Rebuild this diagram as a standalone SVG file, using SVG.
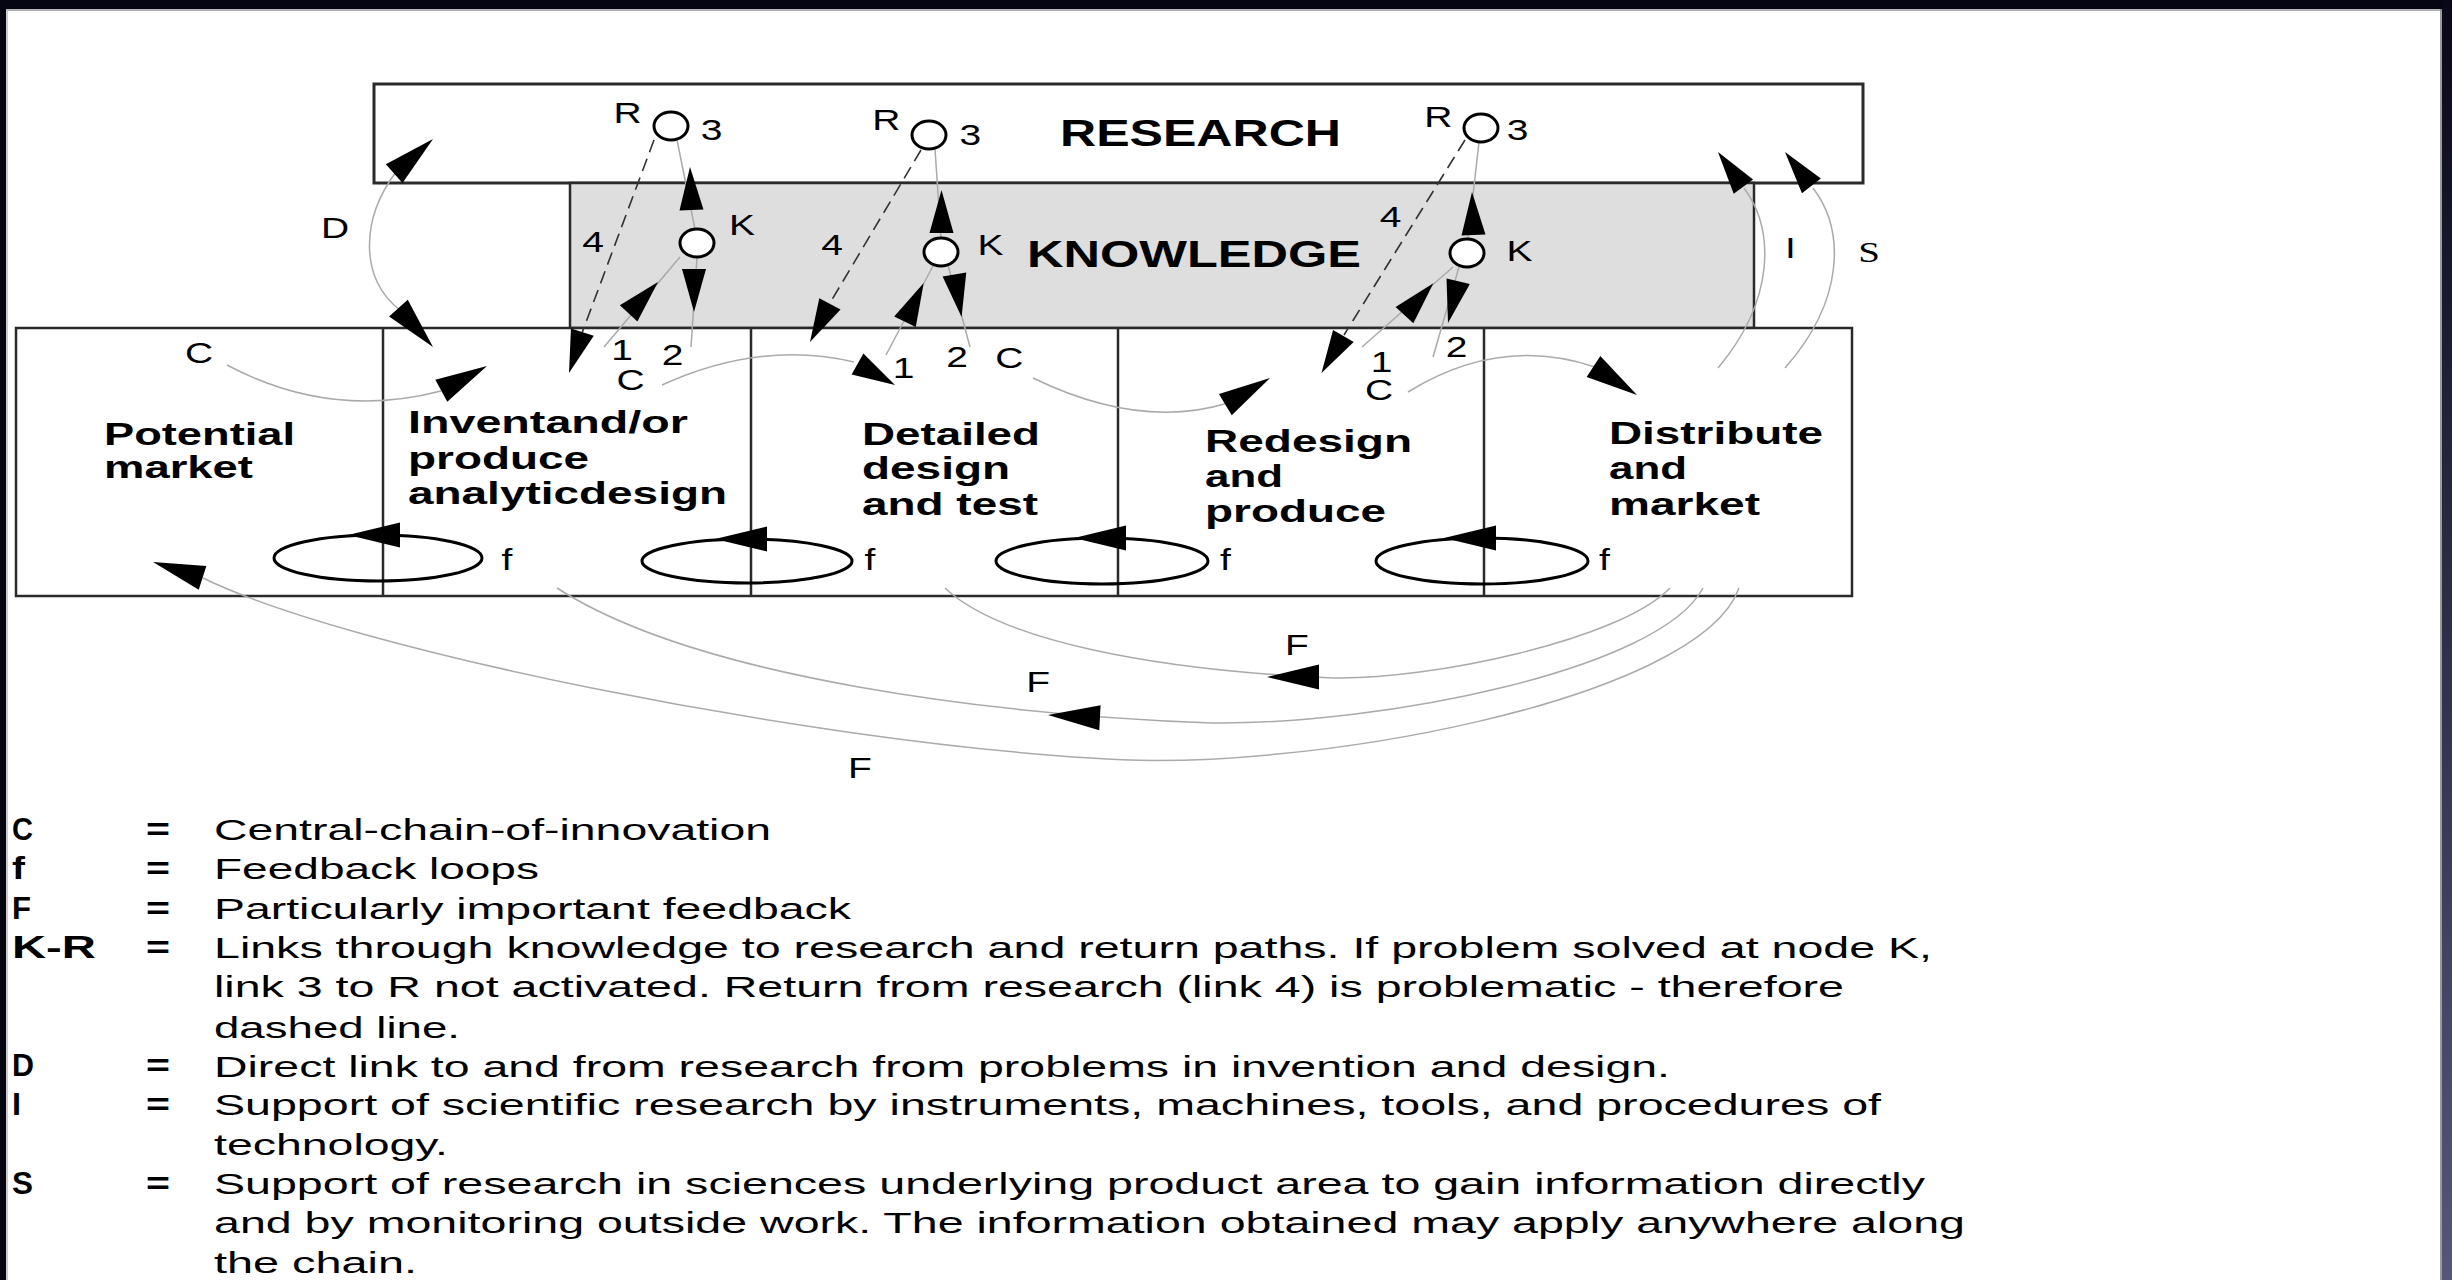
<svg xmlns="http://www.w3.org/2000/svg" width="2452" height="1280" viewBox="0 0 2452 1280">
<defs>
  <linearGradient id="edgeR" x1="0" y1="0" x2="0" y2="1">
    <stop offset="0" stop-color="#080818"/>
    <stop offset="1" stop-color="#56567a"/>
  </linearGradient>
  <!-- arrowheads point along +x, tip at the origin -->
  <path id="ahL" d="M0,0 L-52,-12.5 L-52,12.5 Z"/>
  <path id="ahM" d="M0,0 L-43,-12 L-43,12 Z"/>
</defs>
<style>
  .box{fill:#fff;stroke:#2a2a2a;stroke-width:2.5}
  .know{fill:#dedede;stroke:#2a2a2a;stroke-width:2.5}
  .div{stroke:#2a2a2a;stroke-width:2.5}
  .node{fill:#fff;stroke:#000;stroke-width:3}
  .loop{fill:none;stroke:#000;stroke-width:3}
  .thin{fill:none;stroke:#aaa;stroke-width:1.5}
  .dash{fill:none;stroke:#333;stroke-width:1.6;stroke-dasharray:13 7}
  .head{fill:#000}
  .title{font-family:"Liberation Sans",Arial,sans-serif;font-weight:bold;font-size:36px;fill:#000}
  .step{font-family:"Liberation Sans",Arial,sans-serif;font-weight:bold;font-size:31px;fill:#000}
  .lbl{font-family:"Liberation Sans",Arial,sans-serif;font-size:30px;fill:#000;text-anchor:middle}
  .serif{font-family:"Liberation Serif","Times New Roman",serif}
  .key{font-family:"Liberation Sans",Arial,sans-serif;font-weight:bold;font-size:31px;fill:#000}
  .txt{font-family:"Liberation Sans",Arial,sans-serif;font-size:30px;fill:#000}
</style>

<!-- page and frame -->
<rect x="0" y="0" width="2452" height="1280" fill="#fff"/>
<rect x="0" y="0" width="2452" height="9" fill="#060612"/>
<rect x="0" y="0" width="6" height="1280" fill="#060612"/>
<rect x="2442" y="0" width="10" height="1280" fill="url(#edgeR)"/>
<line x1="6" y1="10" x2="2442" y2="10" stroke="#9a9a9a" stroke-width="1.5"/>
<line x1="7" y1="9" x2="7" y2="1280" stroke="#bbb" stroke-width="1.5"/>
<line x1="2441" y1="9" x2="2441" y2="1280" stroke="#777" stroke-width="1.5"/>

<!-- research and knowledge bands -->
<g id="research">
  <rect class="box" x="374" y="84" width="1489" height="99" style="stroke-width:3"/>
  <text class="title" x="1060" y="146" textLength="281" lengthAdjust="spacingAndGlyphs">RESEARCH</text>
</g>
<g id="knowledge">
  <rect class="know" x="570" y="183" width="1184" height="145"/>
  <text class="title" x="1027" y="267" textLength="334" lengthAdjust="spacingAndGlyphs">KNOWLEDGE</text>
</g>

<!-- chain of innovation steps -->
<g id="chain">
  <rect class="box" x="16" y="328" width="1836" height="268"/>
  <line class="div" x1="383" y1="328" x2="383" y2="596"/>
  <line class="div" x1="751" y1="328" x2="751" y2="596"/>
  <line class="div" x1="1118" y1="328" x2="1118" y2="596"/>
  <line class="div" x1="1484" y1="328" x2="1484" y2="596"/>
</g>
<g id="step-market">
  <text class="step" x="104" y="445" textLength="191" lengthAdjust="spacingAndGlyphs">Potential</text>
  <text class="step" x="104" y="478" textLength="149" lengthAdjust="spacingAndGlyphs">market</text>
</g>
<g id="step-invent">
  <text class="step" x="408" y="433" textLength="280" lengthAdjust="spacingAndGlyphs">Inventand/or</text>
  <text class="step" x="408" y="469" textLength="181" lengthAdjust="spacingAndGlyphs">produce</text>
  <text class="step" x="408" y="504" textLength="319" lengthAdjust="spacingAndGlyphs">analyticdesign</text>
</g>
<g id="step-detail">
  <text class="step" x="862" y="445" textLength="178" lengthAdjust="spacingAndGlyphs">Detailed</text>
  <text class="step" x="862" y="479" textLength="148" lengthAdjust="spacingAndGlyphs">design</text>
  <text class="step" x="862" y="515" textLength="176" lengthAdjust="spacingAndGlyphs">and test</text>
</g>
<g id="step-redesign">
  <text class="step" x="1205" y="452" textLength="207" lengthAdjust="spacingAndGlyphs">Redesign</text>
  <text class="step" x="1205" y="487" textLength="78" lengthAdjust="spacingAndGlyphs">and</text>
  <text class="step" x="1205" y="522" textLength="181" lengthAdjust="spacingAndGlyphs">produce</text>
</g>
<g id="step-distribute">
  <text class="step" x="1609" y="444" textLength="214" lengthAdjust="spacingAndGlyphs">Distribute</text>
  <text class="step" x="1609" y="479" textLength="78" lengthAdjust="spacingAndGlyphs">and</text>
  <text class="step" x="1609" y="515" textLength="151" lengthAdjust="spacingAndGlyphs">market</text>
</g>

<!-- connectors -->
<g id="connectors">
  <!-- central chain C -->
  <path class="thin" d="M227,365 Q330,420 441,391"/>
  <path class="thin" d="M662,385 Q760,340 854,362"/>
  <path class="thin" d="M1033,378 Q1140,430 1228,403"/>
  <path class="thin" d="M1408,392 Q1500,335 1595,367"/>
  <use href="#ahL" class="head" transform="translate(487 366) rotate(-28.5)"/>
  <use href="#ahM" class="head" transform="translate(895 385) rotate(29.3)"/>
  <use href="#ahL" class="head" transform="translate(1270 378) rotate(-30.8)"/>
  <use href="#ahL" class="head" transform="translate(1637 395) rotate(33.2)"/>

  <!-- D: invention to research and back -->
  <path class="thin" d="M396,172 C360,220 360,280 400,310"/>
  <use href="#ahL" class="head" transform="translate(433 139) rotate(-41.7)"/>
  <use href="#ahL" class="head" transform="translate(433 347) rotate(48.3)"/>

  <!-- I and S: support of research -->
  <path class="thin" d="M1718,368 C1775,300 1775,230 1744,188"/>
  <path class="thin" d="M1785,368 C1845,300 1845,230 1813,188"/>
  <use href="#ahM" class="head" transform="translate(1718 152) rotate(-126.2)"/>
  <use href="#ahM" class="head" transform="translate(1785 152) rotate(-127.9)"/>

  <!-- K-R links, node 1 -->
  <line class="thin" x1="677" y1="140" x2="695" y2="229"/>
  <line class="thin" x1="697" y1="257" x2="691" y2="347"/>
  <line class="thin" x1="604" y1="347" x2="680" y2="257"/>
  <line class="dash" x1="654" y1="140" x2="582" y2="333"/>
  <use href="#ahM" class="head" transform="translate(690 167) rotate(-92)"/>
  <use href="#ahM" class="head" transform="translate(694 312) rotate(90)"/>
  <use href="#ahM" class="head" transform="translate(658 282) rotate(-46.9)"/>
  <use href="#ahM" class="head" transform="translate(569 373) rotate(108.1)"/>

  <!-- K-R links, node 2 -->
  <line class="thin" x1="935" y1="149" x2="941" y2="238"/>
  <line class="thin" x1="948" y1="265" x2="970" y2="347"/>
  <line class="thin" x1="886" y1="355" x2="933" y2="266"/>
  <line class="dash" x1="921" y1="150" x2="830" y2="303"/>
  <use href="#ahM" class="head" transform="translate(941.5 190) rotate(-90)"/>
  <use href="#ahM" class="head" transform="translate(961.6 317) rotate(80.4)"/>
  <use href="#ahM" class="head" transform="translate(923.7 283) rotate(-64.2)"/>
  <use href="#ahM" class="head" transform="translate(810 342) rotate(117.6)"/>

  <!-- K-R links, node 3 -->
  <line class="thin" x1="1479" y1="142" x2="1468" y2="239"/>
  <line class="thin" x1="1459" y1="267" x2="1433" y2="357"/>
  <line class="thin" x1="1362" y1="347" x2="1453" y2="267"/>
  <line class="dash" x1="1465" y1="140" x2="1344" y2="335"/>
  <use href="#ahM" class="head" transform="translate(1472 192) rotate(-92)"/>
  <use href="#ahM" class="head" transform="translate(1448 323) rotate(103.7)"/>
  <use href="#ahM" class="head" transform="translate(1433.4 283.3) rotate(-47.7)"/>
  <use href="#ahM" class="head" transform="translate(1321.5 373) rotate(120.6)"/>

  <!-- f: feedback loops -->
  <ellipse class="loop" cx="378" cy="558" rx="104" ry="23"/>
  <ellipse class="loop" cx="747" cy="561" rx="105" ry="22"/>
  <ellipse class="loop" cx="1102" cy="561" rx="106" ry="23"/>
  <ellipse class="loop" cx="1482" cy="561" rx="106" ry="23"/>
  <use href="#ahL" class="head" transform="translate(348 535) rotate(180)"/>
  <use href="#ahL" class="head" transform="translate(715 539) rotate(180)"/>
  <use href="#ahL" class="head" transform="translate(1074 538) rotate(180)"/>
  <use href="#ahL" class="head" transform="translate(1444 538) rotate(180)"/>

  <!-- F: particularly important feedback -->
  <path class="thin" d="M1670,588 C1620,640 1430,680 1333,678 C1150,670 1000,640 945,588"/>
  <path class="thin" d="M1703,588 C1660,670 1380,725 1212,723 C1000,715 700,680 557,588"/>
  <path class="thin" d="M1739,588 C1700,700 1300,775 1091,758 C800,740 350,650 203,578"/>
  <use href="#ahL" class="head" transform="translate(1267 677) rotate(180)"/>
  <use href="#ahL" class="head" transform="translate(1048 715) rotate(183)"/>
  <use href="#ahL" class="head" transform="translate(153 562) rotate(197.7)"/>
</g>

<!-- knowledge (K) and research (R) nodes -->
<g id="node-1">
  <ellipse class="node" cx="671" cy="126" rx="17" ry="14"/>
  <ellipse class="node" cx="697" cy="243" rx="17" ry="14"/>
</g>
<g id="node-2">
  <ellipse class="node" cx="929" cy="135" rx="17" ry="14"/>
  <ellipse class="node" cx="941" cy="252" rx="17" ry="14"/>
</g>
<g id="node-3">
  <ellipse class="node" cx="1481" cy="128" rx="17" ry="14"/>
  <ellipse class="node" cx="1467" cy="253" rx="17" ry="14"/>
</g>

<!-- single-letter labels, widened to the drawing's proportions -->
<g id="labels" transform="scale(1.3 1)">
  <text class="lbl" x="482.7" y="123">R</text>
  <text class="lbl" x="547.3" y="140">3</text>
  <text class="lbl" x="570.8" y="235">K</text>
  <text class="lbl" x="456.2" y="252">4</text>
  <text class="lbl" x="478.5" y="360">1</text>
  <text class="lbl" x="517.3" y="365">2</text>
  <text class="lbl" x="485" y="390">C</text>

  <text class="lbl" x="681.9" y="130">R</text>
  <text class="lbl" x="746.5" y="145">3</text>
  <text class="lbl" x="761.9" y="255">K</text>
  <text class="lbl" x="640" y="255">4</text>
  <text class="lbl" x="695" y="378">1</text>
  <text class="lbl" x="736.2" y="367">2</text>
  <text class="lbl" x="776.5" y="368">C</text>

  <text class="lbl" x="1106.5" y="127">R</text>
  <text class="lbl" x="1167.3" y="140">3</text>
  <text class="lbl" x="1168.8" y="261">K</text>
  <text class="lbl" x="1069.6" y="227">4</text>
  <text class="lbl" x="1062.7" y="372">1</text>
  <text class="lbl" x="1060.8" y="400">C</text>
  <text class="lbl" x="1120.4" y="357">2</text>

  <text class="lbl" x="153.1" y="363">C</text>
  <text class="lbl" x="257.7" y="238">D</text>
  <text class="lbl" x="1377.3" y="258">I</text>
  <text class="lbl serif" x="1437.7" y="262">S</text>

  <text class="lbl" x="390" y="570">f</text>
  <text class="lbl" x="669.2" y="570">f</text>
  <text class="lbl" x="942.7" y="570">f</text>
  <text class="lbl" x="1234.2" y="570">f</text>

  <text class="lbl" x="997.7" y="655">F</text>
  <text class="lbl" x="798.5" y="692">F</text>
  <text class="lbl" x="661.5" y="778">F</text>
</g>

<!-- legend -->
<g id="legend">
  <text class="key" x="12" y="840" textLength="21" lengthAdjust="spacingAndGlyphs">C</text>
  <text class="key" x="12" y="879" textLength="13" lengthAdjust="spacingAndGlyphs">f</text>
  <text class="key" x="12" y="919" textLength="19" lengthAdjust="spacingAndGlyphs">F</text>
  <text class="key" x="12" y="958" textLength="84" lengthAdjust="spacingAndGlyphs">K-R</text>
  <text class="key" x="12" y="1076" textLength="22" lengthAdjust="spacingAndGlyphs">D</text>
  <text class="key" x="12" y="1115" textLength="9" lengthAdjust="spacingAndGlyphs">I</text>
  <text class="key" x="12" y="1194" textLength="21" lengthAdjust="spacingAndGlyphs">S</text>
  <g class="key">
    <text x="146" y="840" textLength="24" lengthAdjust="spacingAndGlyphs">=</text>
    <text x="146" y="879" textLength="24" lengthAdjust="spacingAndGlyphs">=</text>
    <text x="146" y="919" textLength="24" lengthAdjust="spacingAndGlyphs">=</text>
    <text x="146" y="958" textLength="24" lengthAdjust="spacingAndGlyphs">=</text>
    <text x="146" y="1076" textLength="24" lengthAdjust="spacingAndGlyphs">=</text>
    <text x="146" y="1115" textLength="24" lengthAdjust="spacingAndGlyphs">=</text>
    <text x="146" y="1194" textLength="24" lengthAdjust="spacingAndGlyphs">=</text>
  </g>
  <text class="txt" x="214" y="840" textLength="557" lengthAdjust="spacingAndGlyphs">Central-chain-of-innovation</text>
  <text class="txt" x="214" y="879" textLength="325" lengthAdjust="spacingAndGlyphs">Feedback loops</text>
  <text class="txt" x="214" y="919" textLength="637" lengthAdjust="spacingAndGlyphs">Particularly important feedback</text>
  <text class="txt" x="214" y="958" textLength="1718" lengthAdjust="spacingAndGlyphs">Links through knowledge to research and return paths. If problem solved at node K,</text>
  <text class="txt" x="214" y="997" textLength="1630" lengthAdjust="spacingAndGlyphs">link 3 to R not activated. Return from research (link 4) is problematic - therefore</text>
  <text class="txt" x="214" y="1038" textLength="246" lengthAdjust="spacingAndGlyphs">dashed line.</text>
  <text class="txt" x="214" y="1077" textLength="1456" lengthAdjust="spacingAndGlyphs">Direct link to and from research from problems in invention and design.</text>
  <text class="txt" x="214" y="1115" textLength="1667" lengthAdjust="spacingAndGlyphs">Support of scientific research by instruments, machines, tools, and procedures of</text>
  <text class="txt" x="214" y="1155" textLength="234" lengthAdjust="spacingAndGlyphs">technology.</text>
  <text class="txt" x="214" y="1194" textLength="1711" lengthAdjust="spacingAndGlyphs">Support of research in sciences underlying product area to gain information directly</text>
  <text class="txt" x="214" y="1233" textLength="1751" lengthAdjust="spacingAndGlyphs">and by monitoring outside work. The information obtained may apply anywhere along</text>
  <text class="txt" x="214" y="1273" textLength="203" lengthAdjust="spacingAndGlyphs">the chain.</text>
</g>
</svg>
